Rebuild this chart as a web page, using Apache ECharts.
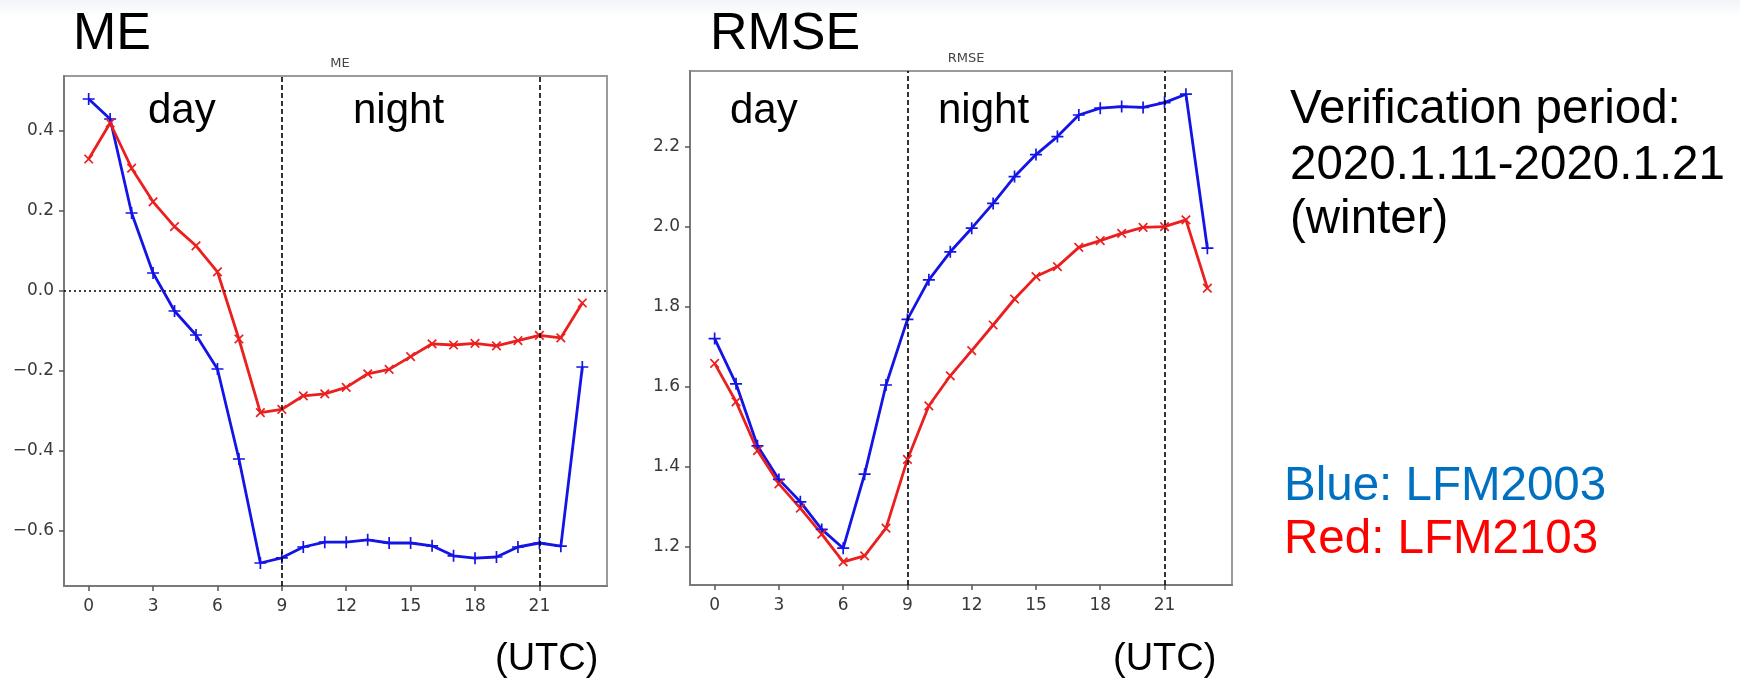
<!doctype html>
<html lang="en">
<head>
	<meta charset="UTF-8">
	<title>ME / RMSE</title>
	<script src="https://cdn.jsdelivr.net/npm/echarts@6/dist/echarts.min.js"></script>
	<style>
		html, body { margin: 0; padding: 0; background: #fff; }
		#chart { width: 1740px; height: 678px; }
	</style>
</head>
<body>
	<div id="chart"></div>

	<script>
		// data
		var hours = [0, 1, 2, 3, 4, 5, 6, 7, 8, 9, 10, 11, 12, 13, 14, 15, 16, 17, 18, 19, 20, 21, 22, 23];
		var xTicks = [0, 3, 6, 9, 12, 15, 18, 21];
		var dayNight = [9, 21];

		var meYTicks = [-0.6, -0.4, -0.2, 0, 0.2, 0.4];
		var meBlue = [0.48, 0.43, 0.195, 0.045, -0.05, -0.11, -0.195, -0.42, -0.68, -0.667, -0.64, -0.628,
			-0.628, -0.622, -0.63, -0.63, -0.637, -0.662, -0.668, -0.665, -0.64, -0.63, -0.638, -0.19];
		var meRed = [0.33, 0.42, 0.307, 0.223, 0.161, 0.113, 0.048, -0.12, -0.304, -0.296, -0.262, -0.257,
			-0.241, -0.207, -0.196, -0.164, -0.132, -0.135, -0.131, -0.137, -0.124, -0.111, -0.117, -0.03];

		var rmseYTicks = [1.2, 1.4, 1.6, 1.8, 2.0, 2.2];
		var rmseBlue = [1.72, 1.607, 1.452, 1.368, 1.312, 1.243, 1.196, 1.381, 1.604, 1.768, 1.867, 1.937,
			1.996, 2.058, 2.125, 2.18, 2.225, 2.279, 2.296, 2.30, 2.298, 2.31, 2.331, 1.946];
		var rmseRed = [1.658, 1.562, 1.44, 1.357, 1.296, 1.231, 1.162, 1.177, 1.246, 1.418, 1.552, 1.627,
			1.69, 1.754, 1.819, 1.875, 1.90, 1.948, 1.965, 1.983, 1.998, 2.0, 2.017, 1.846];

		var BLUE = '#1414e6';
		var RED = '#ec1f1f';
		var plus = 'path://M4.3,0H5.7V4.3H10V5.7H5.7V10H4.3V5.7H0V4.3H4.3Z';
		var sans = '"Liberation Sans", Arial, sans-serif';

		function pairs(ys) {
			return hours.map(function (h, i) { return [h, ys[i]]; });
		}

		function fmt(v) {
			return v.toFixed(1).replace('-', '\u2212');
		}

		var tickLabel = { margin: 10, color: '#383838', fontSize: 17, fontFamily: 'DejaVu Sans' };

		function xAxis(idx) {
			return {
				type: 'value', gridIndex: idx, min: -1.15, max: 24.15,
				splitLine: { show: false },
				axisLine: { show: true, onZero: false, lineStyle: { color: '#7a7a7a', width: 2 } },
				axisTick: { show: true, inside: false, length: 5, customValues: xTicks, lineStyle: { color: '#555', width: 1.5 } },
				axisLabel: Object.assign({ customValues: xTicks }, tickLabel, { margin: 12 })
			};
		}

		function yAxis(idx, min, max, ticks) {
			return {
				type: 'value', gridIndex: idx, min: min, max: max,
				splitLine: { show: false },
				axisLine: { show: true, onZero: false, lineStyle: { color: '#7a7a7a', width: 2 } },
				axisTick: { show: true, inside: false, length: 5, customValues: ticks, lineStyle: { color: '#555', width: 1.5 } },
				axisLabel: Object.assign({ customValues: ticks, formatter: fmt }, tickLabel)
			};
		}

		function line(idx, ys, color, rotate, marks) {
			var s = {
				type: 'line', xAxisIndex: idx, yAxisIndex: idx,
				data: pairs(ys),
				symbol: plus, symbolSize: 12, symbolRotate: rotate,
				showAllSymbol: true,
				itemStyle: { color: color },
				lineStyle: { color: color, width: 2.8 },
				z: 3
			};
			if (marks) s.markLine = marks;
			return s;
		}

		var dashed = {
			silent: true, symbol: 'none', label: { show: false },
			lineStyle: { color: '#000', width: 1.6, type: [5, 3] },
			data: dayNight.map(function (h) { return { xAxis: h }; })
		};
		var meMarks = {
			silent: true, symbol: 'none', label: { show: false },
			lineStyle: { color: '#000', width: 1.6, type: [5, 3] },
			data: dayNight.map(function (h) { return { xAxis: h }; }).concat([
				{ yAxis: 0, lineStyle: { type: [2, 3], width: 1.6 } }
			])
		};

		function txt(x, y, s, size, color) {
			return {
				type: 'text', x: x, y: y, silent: true,
				style: { text: s, font: size + 'px ' + sans, fill: color || '#000', verticalAlign: 'middle' }
			};
		}

		var chart = echarts.init(document.getElementById('chart'));
		var option = {
			backgroundColor: '#fff',
			animation: false,
			title: [
				{ text: 'ME', left: 335, top: 52, textAlign: 'center', textStyle: { fontSize: 13, fontWeight: 'normal', color: '#444', fontFamily: 'DejaVu Sans' } },
				{ text: 'RMSE', left: 961, top: 47, textAlign: 'center', textStyle: { fontSize: 13, fontWeight: 'normal', color: '#444', fontFamily: 'DejaVu Sans' } }
			],
			grid: [
				{ left: 64, top: 76, width: 543, height: 510, show: true, borderColor: '#9a9a9a', borderWidth: 2, backgroundColor: '#fff' },
				{ left: 690, top: 71, width: 542, height: 514, show: true, borderColor: '#9a9a9a', borderWidth: 2, backgroundColor: '#fff' }
			],
			xAxis: [xAxis(0), xAxis(1)],
			yAxis: [
				yAxis(0, -0.7375, 0.5375, meYTicks),
				yAxis(1, 1.104, 2.389, rmseYTicks)
			],
			series: [
				line(0, meBlue, BLUE, 0, meMarks),
				line(0, meRed, RED, 45),
				line(1, rmseBlue, BLUE, 0, dashed),
				line(1, rmseRed, RED, 45)
			],
			graphic: [
				{
					type: 'rect', shape: { x: 0, y: 0, width: 1740, height: 16 }, silent: true, z: -1,
					style: { fill: new echarts.graphic.LinearGradient(0, 0, 0, 1, [{ offset: 0, color: '#f2f4f8' }, { offset: 1, color: '#ffffff' }]) }
				},
				txt(73, 35, 'ME', 52),
				txt(710, 35, 'RMSE', 52),
				txt(148, 111, 'day', 42),
				txt(353, 111, 'night', 42),
				txt(730, 111, 'day', 42),
				txt(938, 111, 'night', 42),
				txt(495, 660, '(UTC)', 38),
				txt(1113, 660, '(UTC)', 38),
				txt(1290, 110, 'Verification period:', 47.5),
				txt(1290, 166, '2020.1.11-2020.1.21', 47.5),
				txt(1290, 220, '(winter)', 47.5),
				txt(1284, 487, 'Blue: LFM2003', 47.5, '#0070c0'),
				txt(1284, 540, 'Red: LFM2103', 47.5, '#ff0000')
			]
		};
		chart.setOption(option);
	</script>
</body>
</html>
